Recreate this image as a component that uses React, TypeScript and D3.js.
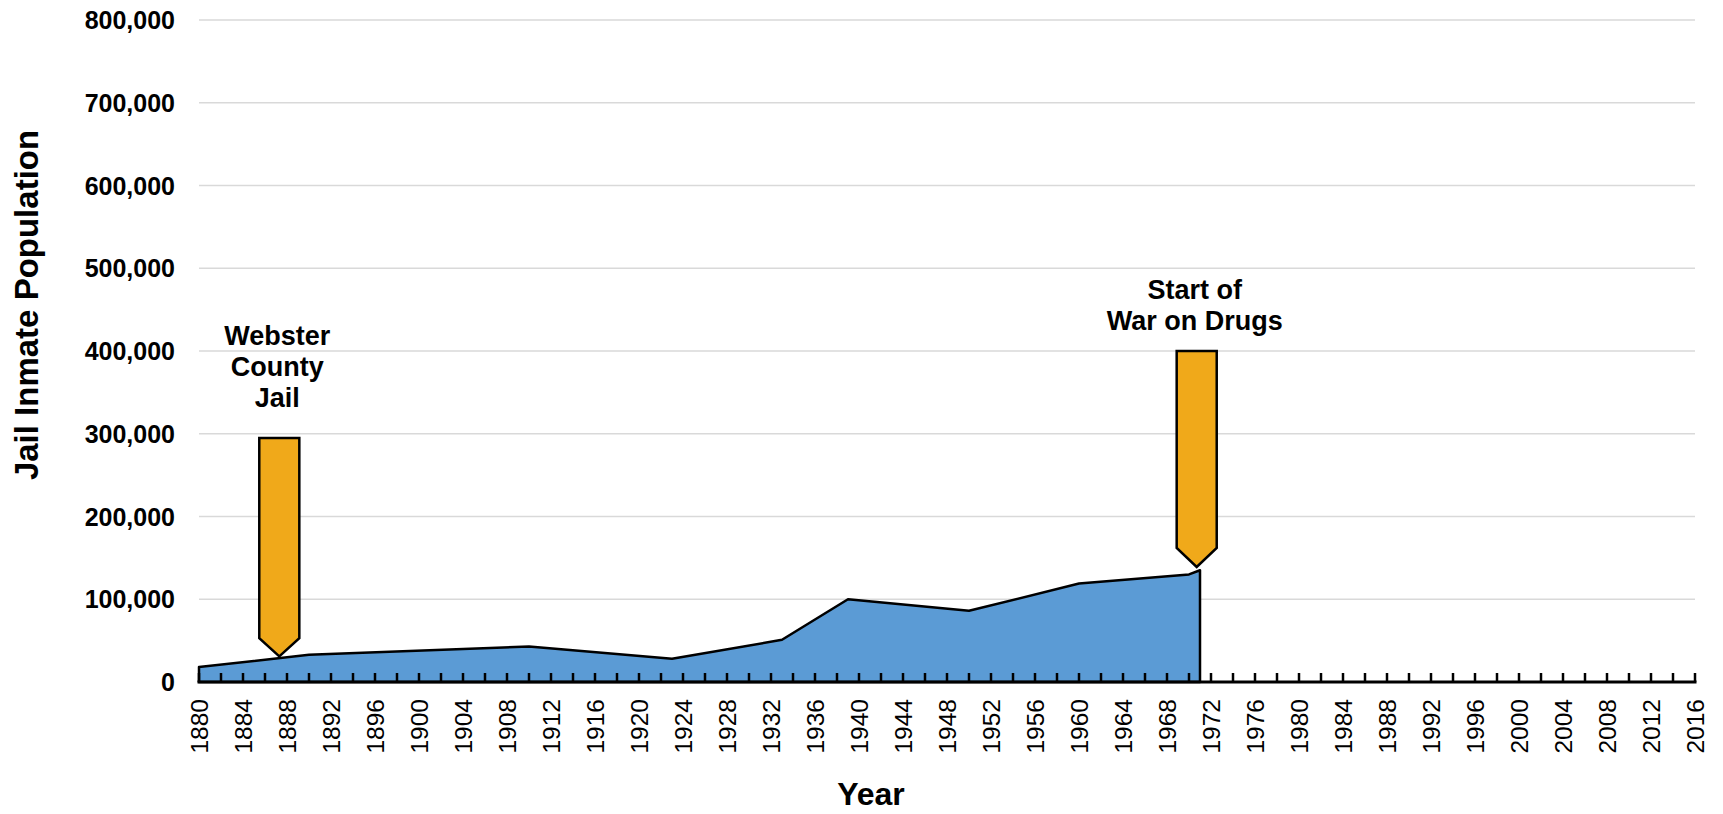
import { useEffect, useRef } from 'react'
import * as d3 from 'd3'

const WIDTH = 1723
const HEIGHT = 814
const MARGIN = { top: 20, right: 28, bottom: 132, left: 199 }
const FONT = '"Liberation Sans", Arial, Helvetica, sans-serif'

// jail population
const YEARS = [1880, 1890, 1910, 1923, 1933, 1939, 1950, 1960, 1970, 1971]
const INMATES = [18000, 33000, 43000, 28000, 51000, 100000, 86000, 119000, 130000, 135000]

const Y_TICKS = [0, 100000, 200000, 300000, 400000, 500000, 600000, 700000, 800000]
const X_LABELS = d3.range(1880, 2017, 4)
const X_TICKS = d3.range(1880, 2017, 2)

// arrow annotations: year, top, shoulder, tip (population units), label lines + last baseline
const ARROW_YEARS = [1887.3, 1970.7]
const ARROW_TOPS = [295000, 400000]
const ARROW_SHOULDERS = [53000, 162000]
const ARROW_TIPS = [31000, 139000]
const ARROW_LABELS = [['Webster', 'County', 'Jail'], ['Start of', 'War on Drugs']]
const ARROW_LABEL_BASE = [332000, 425000]

export default function App() {
  const svgRef = useRef<SVGSVGElement>(null)

  useEffect(() => {
    const svg = d3.select(svgRef.current)
    svg.selectAll('*').remove()

    const x = d3.scaleLinear([1880, 2016], [MARGIN.left, WIDTH - MARGIN.right])
    const y = d3.scaleLinear([0, 800000], [HEIGHT - MARGIN.bottom, MARGIN.top])
    const base = y(0)

    // ── Grid ──────────────────────────────────────────────────────────────
    svg.append('g')
      .selectAll('line')
      .data(Y_TICKS.filter(d => d > 0))
      .join('line')
      .attr('x1', x(1880)).attr('x2', x(2016))
      .attr('y1', d => y(d)).attr('y2', d => y(d))
      .attr('stroke', '#d9d9d9').attr('stroke-width', 1.5)

    // ── Y labels ──────────────────────────────────────────────────────────
    svg.append('g')
      .selectAll('text')
      .data(Y_TICKS)
      .join('text')
      .attr('x', 175).attr('y', d => y(d)).attr('dy', '0.36em')
      .attr('text-anchor', 'end')
      .attr('font-family', FONT).attr('font-weight', 'bold').attr('font-size', 25)
      .attr('fill', '#000')
      .text(d => d3.format(',')(d))

    // ── Area ──────────────────────────────────────────────────────────────
    const pts = YEARS.map((yr, i) => [yr, INMATES[i]] as [number, number])
    const area = d3.area<[number, number]>()
      .x(d => x(d[0])).y0(base).y1(d => y(d[1]))
    svg.append('path')
      .datum(pts)
      .attr('d', area)
      .attr('fill', '#5b9bd5')
      .attr('stroke', '#000').attr('stroke-width', 2.5).attr('stroke-linejoin', 'round')

    // ── X axis ────────────────────────────────────────────────────────────
    svg.append('g')
      .selectAll('line')
      .data(X_TICKS)
      .join('line')
      .attr('x1', d => x(d)).attr('x2', d => x(d))
      .attr('y1', base).attr('y2', base - 9)
      .attr('stroke', '#000').attr('stroke-width', 2.5)

    svg.append('line')
      .attr('x1', x(1880) - 1.5).attr('x2', x(2016) + 1.5)
      .attr('y1', base).attr('y2', base)
      .attr('stroke', '#000').attr('stroke-width', 3)

    svg.append('g')
      .selectAll('text')
      .data(X_LABELS)
      .join('text')
      .attr('transform', d => `translate(${x(d)},${base + 17}) rotate(-90)`)
      .attr('dy', '0.36em')
      .attr('text-anchor', 'end')
      .attr('font-family', FONT).attr('font-size', 24.5)
      .attr('fill', '#000')
      .text(d => d)

    // ── Axis titles ───────────────────────────────────────────────────────
    svg.append('text')
      .attr('transform', `translate(26,305) rotate(-90)`)
      .attr('dy', '0.36em')
      .attr('text-anchor', 'middle')
      .attr('font-family', FONT).attr('font-weight', 'bold').attr('font-size', 33)
      .text('Jail Inmate Population')

    svg.append('text')
      .attr('x', 871).attr('y', 805)
      .attr('text-anchor', 'middle')
      .attr('font-family', FONT).attr('font-weight', 'bold').attr('font-size', 32)
      .text('Year')

    // ── Arrows ────────────────────────────────────────────────────────────
    const halfW = 1.82 // years
    ARROW_YEARS.forEach((yr, i) => {
      const poly = [
        [x(yr - halfW), y(ARROW_TOPS[i])],
        [x(yr + halfW), y(ARROW_TOPS[i])],
        [x(yr + halfW), y(ARROW_SHOULDERS[i])],
        [x(yr), y(ARROW_TIPS[i])],
        [x(yr - halfW), y(ARROW_SHOULDERS[i])],
      ]
      svg.append('polygon')
        .attr('points', poly.map(p => p.join(',')).join(' '))
        .attr('fill', '#f0a91a')
        .attr('stroke', '#000').attr('stroke-width', 2.5).attr('stroke-linejoin', 'miter')

      const lines = ARROW_LABELS[i]
      const lastY = y(ARROW_LABEL_BASE[i])
      lines.forEach((ln, j) => {
        svg.append('text')
          .attr('x', x(yr) - 2)
          .attr('y', lastY - (lines.length - 1 - j) * 31)
          .attr('text-anchor', 'middle')
          .attr('font-family', FONT).attr('font-weight', 'bold').attr('font-size', 27)
          .attr('fill', '#000')
          .text(ln)
      })
    })
  }, [])

  return (
    <svg
      ref={svgRef}
      width={WIDTH}
      height={HEIGHT}
      style={{ position: 'absolute', left: 0, top: 0, background: '#fff' }}
    />
  )
}
